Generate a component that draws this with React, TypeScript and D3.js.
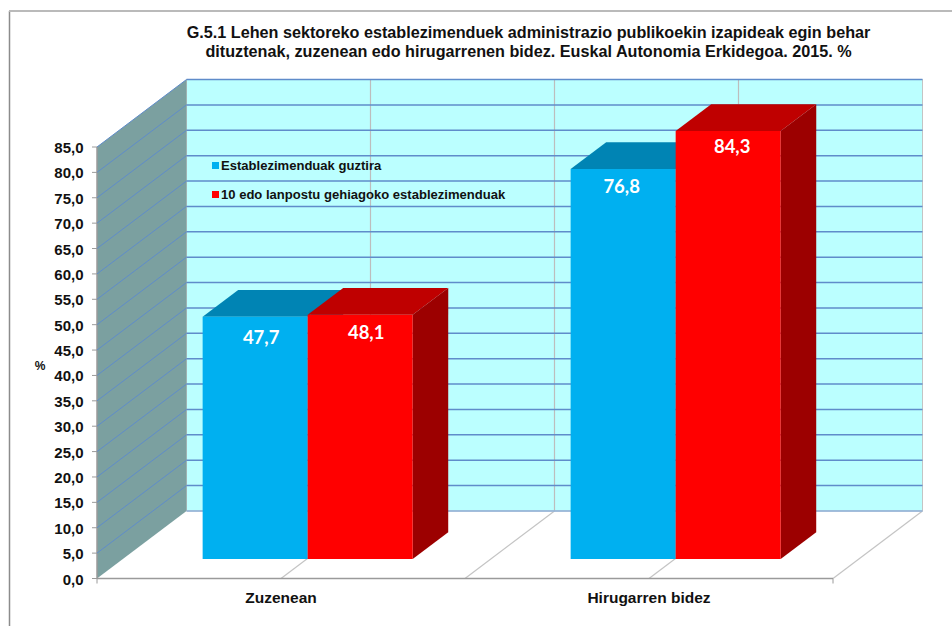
import React from 'react';
import * as d3 from 'd3';

const categories = ['Zuzenean', 'Hirugarren bidez'];
const seriesNames = ['Establezimenduak guztira', '10 edo lanpostu gehiagoko establezimenduak'];
const seriesTotal = [47.7, 76.8];
const seriesLarge = [48.1, 84.3];
const yTicks = d3.range(0, 90, 5);
const titleLines = [
    'G.5.1 Lehen sektoreko establezimenduek administrazio publikoekin izapideak egin behar',
    'dituztenak, zuzenean edo hirugarrenen bidez. Euskal Autonomia Erkidegoa. 2015. %'
];

const front = '#00b0f0';
const frontTop = '#0084b4';
const red = '#ff0000';
const redTop = '#bf0000';
const redSide = '#9c0000';
const gridColor = '#5f8cca';
const arial = '"Liberation Sans", Arial, sans-serif';

const depthX = 89.5;
const depthY = -67.5;
const barDepthStart = 0.289;
const barDepthEnd = 0.686;
const barShift = 0.8;

const x0 = d3.scaleBand<string>().domain(categories).range([97, 833]);
const x1 = d3.scaleBand<string>().domain(['total', 'large']).range([0, x0.bandwidth()]).paddingOuter(0.752);
const y = d3.scaleLinear().domain([0, 85]).range([578.5, 147]);

// point in chart space: x on the front plane, value, depth 0 (front) to 1 (back wall)
const pt = (x: number, v: number, depth: number): [number, number] => [x + depth * depthX, y(v) + depth * depthY];
const poly = (points: [number, number][]) => d3.line()(points) + 'Z';

function Bar({ xLeft, value, colors, label, labelDx, labelDy }: { xLeft: number; value: number; colors: string[]; label: string; labelDx: number; labelDy: number }) {
    const w = x1.bandwidth();
    const a = barDepthStart;
    const b = barDepthEnd;
    const faceTop = pt(xLeft, value, a);
    return (
        <g>
            <path d={poly([pt(xLeft + w, 0, a), pt(xLeft + w, 0, b), pt(xLeft + w, value, b), pt(xLeft + w, value, a)])} fill={colors[2]} />
            <path d={poly([pt(xLeft, value, a), pt(xLeft + w, value, a), pt(xLeft + w, value, b), pt(xLeft, value, b)])} fill={colors[1]} />
            <path d={poly([pt(xLeft, 0, a), pt(xLeft + w, 0, a), pt(xLeft + w, value, a), pt(xLeft, value, a)])} fill={colors[0]} />
            <text x={faceTop[0] + w / 2 + labelDx} y={faceTop[1] + labelDy} textAnchor="middle" fontFamily="Lato, sans-serif" fontWeight="700" fontSize="18.5" fill="#fff">{label}</text>
        </g>
    );
}

export default function App() {
    const catLines = [0, 0.5, 1, 1.5, 2].map(i => 97 + i * x0.bandwidth());
    const fmt = (d: number) => d.toFixed(1).replace('.', ',');
    return (
        <svg width={952} height={626} style={{ position: 'absolute', left: 0, top: 0, background: '#fff' }}>
            {/* chart frame */}
            <line x1={9.5} y1={11} x2={9.5} y2={626} stroke="#8c8c8c" strokeWidth={1.5} />
            <line x1={9} y1={11} x2={952} y2={11} stroke="#bababa" strokeWidth={2} />

            {/* title */}
            {titleLines.map((t, i) => (
                <text key={i} x={528.5} y={38 + i * 18.5} textAnchor="middle" fontFamily={arial} fontWeight="700" fontSize="16.2" fill="#111">{t}</text>
            ))}

            {/* back wall and side wall */}
            <path d={poly([pt(97, 85, 1), pt(833, 85, 1), pt(833, 0, 1), pt(97, 0, 1)])} fill="#bbffff" stroke="#c4c4c4" />
            <path d={poly([pt(97, 0, 0), pt(97, 0, 1), pt(97, 85, 1), pt(97, 85, 0)])} fill="#7ba0a0" />
            <line x1={97} y1={y(0)} x2={97} y2={y(85)} stroke="#9a9a9a" strokeWidth={1.5} />

            {/* vertical wall lines + floor lines */}
            {catLines.slice(1, 4).map(x => (
                <line key={x} x1={pt(x, 0, 1)[0]} y1={pt(x, 0, 1)[1]} x2={pt(x, 85, 1)[0]} y2={pt(x, 85, 1)[1]} stroke="#bdbdbd" strokeWidth={1.2} />
            ))}
            {catLines.slice(1).map(x => (
                <line key={x} x1={pt(x, 0, 0)[0]} y1={pt(x, 0, 0)[1]} x2={pt(x, 0, 1)[0]} y2={pt(x, 0, 1)[1]} stroke="#c4c4c4" strokeWidth={1.2} />
            ))}

            {/* gridlines */}
            {yTicks.filter(d => d > 0).map(d => (
                <g key={d} fill="none" stroke={gridColor}>
                    <path d={d3.line()([pt(97, d, 0), pt(97, d, 1)]) as string} strokeWidth={1} />
                    <path d={d3.line()([pt(97, d, 1), pt(833, d, 1)]) as string} strokeWidth={1.5} />
                </g>
            ))}
            <line x1={pt(97, 0, 1)[0]} y1={pt(97, 0, 1)[1]} x2={pt(833, 0, 1)[0]} y2={pt(833, 0, 1)[1]} stroke="#8fb0d8" strokeWidth={1.5} />

            {/* axes */}
            <line x1={97} y1={y(0)} x2={833} y2={y(0)} stroke="#9a9a9a" strokeWidth={1.5} />
            <line x1={97} y1={y(0)} x2={97} y2={y(0) + 5} stroke="#9a9a9a" />
            <line x1={833} y1={y(0)} x2={833} y2={y(0) + 5} stroke="#9a9a9a" />
            {yTicks.map(d => (
                <g key={d}>
                    <line x1={92} y1={y(d)} x2={97} y2={y(d)} stroke="#9a9a9a" />
                    <text x={83.5} y={y(d) + 6} textAnchor="end" fontFamily={arial} fontWeight="700" fontSize="15" fill="#111">{fmt(d)}</text>
                </g>
            ))}
            <text x={40} y={370} textAnchor="middle" fontFamily={arial} fontWeight="700" fontSize="12" fill="#111">%</text>

            {/* bars */}
            {categories.map((c, i) => {
                const base = (x0(c) as number) + barShift;
                return (
                    <g key={c}>
                        <Bar xLeft={base + (x1('total') as number)} value={seriesTotal[i]} colors={[front, frontTop, frontTop]} label={fmt(seriesTotal[i])} labelDx={i === 0 ? 6 : -1.5} labelDy={i === 0 ? 27 : 24} />
                        <Bar xLeft={base + (x1('large') as number)} value={seriesLarge[i]} colors={[red, redTop, redSide]} label={fmt(seriesLarge[i])} labelDx={i === 0 ? 6 : 4} labelDy={i === 0 ? 24 : 22} />
                        <text x={(x0(c) as number) + x0.bandwidth() / 2} y={603} textAnchor="middle" fontFamily={arial} fontWeight="700" fontSize="15.5" fill="#111">{c}</text>
                    </g>
                );
            })}

            {/* legend */}
            {seriesNames.map((s, i) => (
                <g key={s}>
                    <rect x={212} y={162 + i * 29} width={7} height={7} fill={i === 0 ? front : red} />
                    <text x={221} y={170 + i * 29} fontFamily={arial} fontWeight="700" fontSize="13.05" fill="#111">{s}</text>
                </g>
            ))}
        </svg>
    );
}
